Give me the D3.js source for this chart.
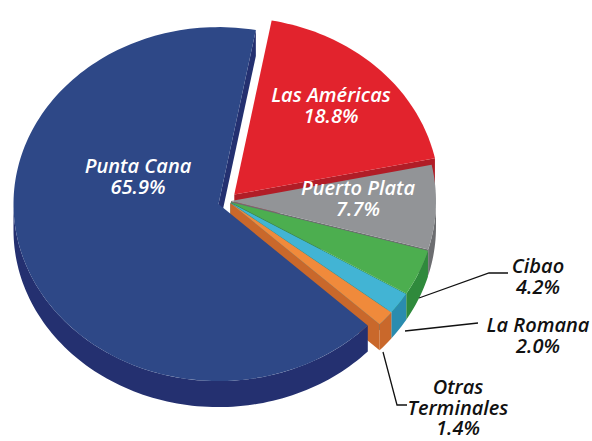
<!DOCTYPE html>
<html>
<head>
<meta charset="utf-8">
<script src="https://cdn.jsdelivr.net/npm/d3@7"></script>
<style>
  body { margin: 0; background: #fff; }
  svg { display: block; }
  text { font-family: "Open Sans", sans-serif; font-style: italic; font-weight: 600; }
</style>
</head>
<body>
<svg id="drawing_region"></svg>
<script>
// data
const categories = ["Las Américas", "Puerto Plata", "Cibao", "La Romana", "Otras Terminales", "Punta Cana"];
const values = [18.8, 7.7, 4.2, 2.0, 1.4, 65.9];

// styles
const topColors = ["#e2232d", "#929497", "#4cae4f", "#42b4d4", "#f08a3b", "#2e4887"];
const sideColors = ["#b11d27", "#6c6d70", "#2f8a3c", "#2a8caf", "#c9682b", "#243070"];

// label placement (x = centre, y = first baseline)
const labelLayout = [
    { x: 331, y: 102, fill: "#fff" },
    { x: 358, y: 195, fill: "#fff" },
    { x: 538, y: 273, fill: "#111", leader: [[419, 298], [489, 273], [508, 273]] },
    { x: 538, y: 332, fill: "#111", leader: [[405, 331], [478, 323]] },
    { x: 458, y: 394, fill: "#111", wrap: true, leader: [[383, 352], [397, 405], [407, 405]] },
    { x: 138, y: 173, fill: "#fff" }
];

const config = {
    parent: '#drawing_region',
    width: 592,
    height: 441,
    center: [228, 201],
    rx: 205,
    ry: 177,
    depth: 26,
    start_angle: 10.5 * Math.PI / 180,
    explode: [9, 3, 3, 3, 3, 10],
    draw_order: [5, 0, 1, 2, 3, 4],
    font_size: 20,
    line_height: 20.5
};

class Pie3D {

    constructor(config) {
        this.config = config;
        this.init();
    }

    init() {
        let self = this;
        self.svg = d3.select(self.config.parent)
            .attr('width', self.config.width)
            .attr('height', self.config.height);

        self.pie = d3.pie()
            .sort(null)
            .value(d => d)
            .startAngle(self.config.start_angle)
            .endAngle(self.config.start_angle + 2 * Math.PI);

        self.line = d3.line();
    }

    rim(c, a, dy) {
        const cfg = this.config;
        return [c[0] + cfg.rx * Math.sin(a), c[1] - cfg.ry * Math.cos(a) + dy];
    }

    arcPoints(c, a0, a1, dy) {
        const n = Math.max(2, Math.ceil(Math.abs(a1 - a0) * 40));
        return d3.range(n + 1).map(i => this.rim(c, a0 + (a1 - a0) * i / n, dy));
    }

    update() {
        let self = this;
        const cfg = self.config;
        self.slices = self.pie(values).map((d, i) => {
            const mid = (d.startAngle + d.endAngle) / 2;
            const e = cfg.explode[i];
            d.c = [cfg.center[0] + e * Math.sin(mid), cfg.center[1] - e * Math.cos(mid)];
            d.i = i;
            return d;
        });
        self.render();
    }

    render() {
        let self = this;
        const cfg = self.config;
        const order = cfg.draw_order.map(i => self.slices[i]);
        const faces = self.svg.append('g');
        const walls = self.svg.append('g');
        const tops = self.svg.append('g');

        order.forEach(d => {
            const c = d.c, a0 = d.startAngle, a1 = d.endAngle;
            const bottomC = [c[0], c[1] + cfg.depth];

            // cut faces
            if (Math.sin(a0) < 0) {
                faces.append('path')
                    .attr('d', self.line([c, self.rim(c, a0, 0), self.rim(c, a0, cfg.depth), bottomC]) + 'Z')
                    .attr('fill', sideColors[d.i]);
            }
            if (Math.sin(a1) > 0) {
                faces.append('path')
                    .attr('d', self.line([c, self.rim(c, a1, 0), self.rim(c, a1, cfg.depth), bottomC]) + 'Z')
                    .attr('fill', sideColors[d.i]);
            }

            // outer wall, front half only
            [[Math.PI / 2, 3 * Math.PI / 2], [5 * Math.PI / 2, 7 * Math.PI / 2]].forEach(r => {
                const s = Math.max(a0, r[0]), e = Math.min(a1, r[1]);
                if (e > s) {
                    const pts = self.arcPoints(c, s, e, 0).concat(self.arcPoints(c, e, s, cfg.depth));
                    walls.append('path')
                        .attr('d', self.line(pts) + 'Z')
                        .attr('fill', sideColors[d.i]);
                }
            });

            // top face
            tops.append('path')
                .attr('d', self.line([c].concat(self.arcPoints(c, a0, a1, 0))) + 'Z')
                .attr('fill', topColors[d.i]);
        });

        // leaders
        const leaders = self.svg.append('g');
        labelLayout.forEach(l => {
            if (l.leader) {
                leaders.append('path')
                    .attr('d', self.line(l.leader))
                    .attr('fill', 'none')
                    .attr('stroke', '#111')
                    .attr('stroke-width', 1.3);
            }
        });

        // labels
        const fmt = d3.format('.1f');
        const labels = self.svg.append('g');
        self.slices.forEach(d => {
            const l = labelLayout[d.i];
            const lines = (l.wrap ? categories[d.i].split(' ') : [categories[d.i]])
                .concat([fmt(values[d.i]) + '%']);
            const t = labels.append('text')
                .attr('x', l.x)
                .attr('y', l.y)
                .attr('text-anchor', 'middle')
                .attr('fill', l.fill)
                .style('font-size', cfg.font_size + 'px');
            lines.forEach((s, k) => {
                t.append('tspan')
                    .attr('x', l.x)
                    .attr('y', l.y + k * cfg.line_height)
                    .text(s);
            });
        });
    }
}

const chart = new Pie3D(config);
chart.update();
</script>
</body>
</html>
